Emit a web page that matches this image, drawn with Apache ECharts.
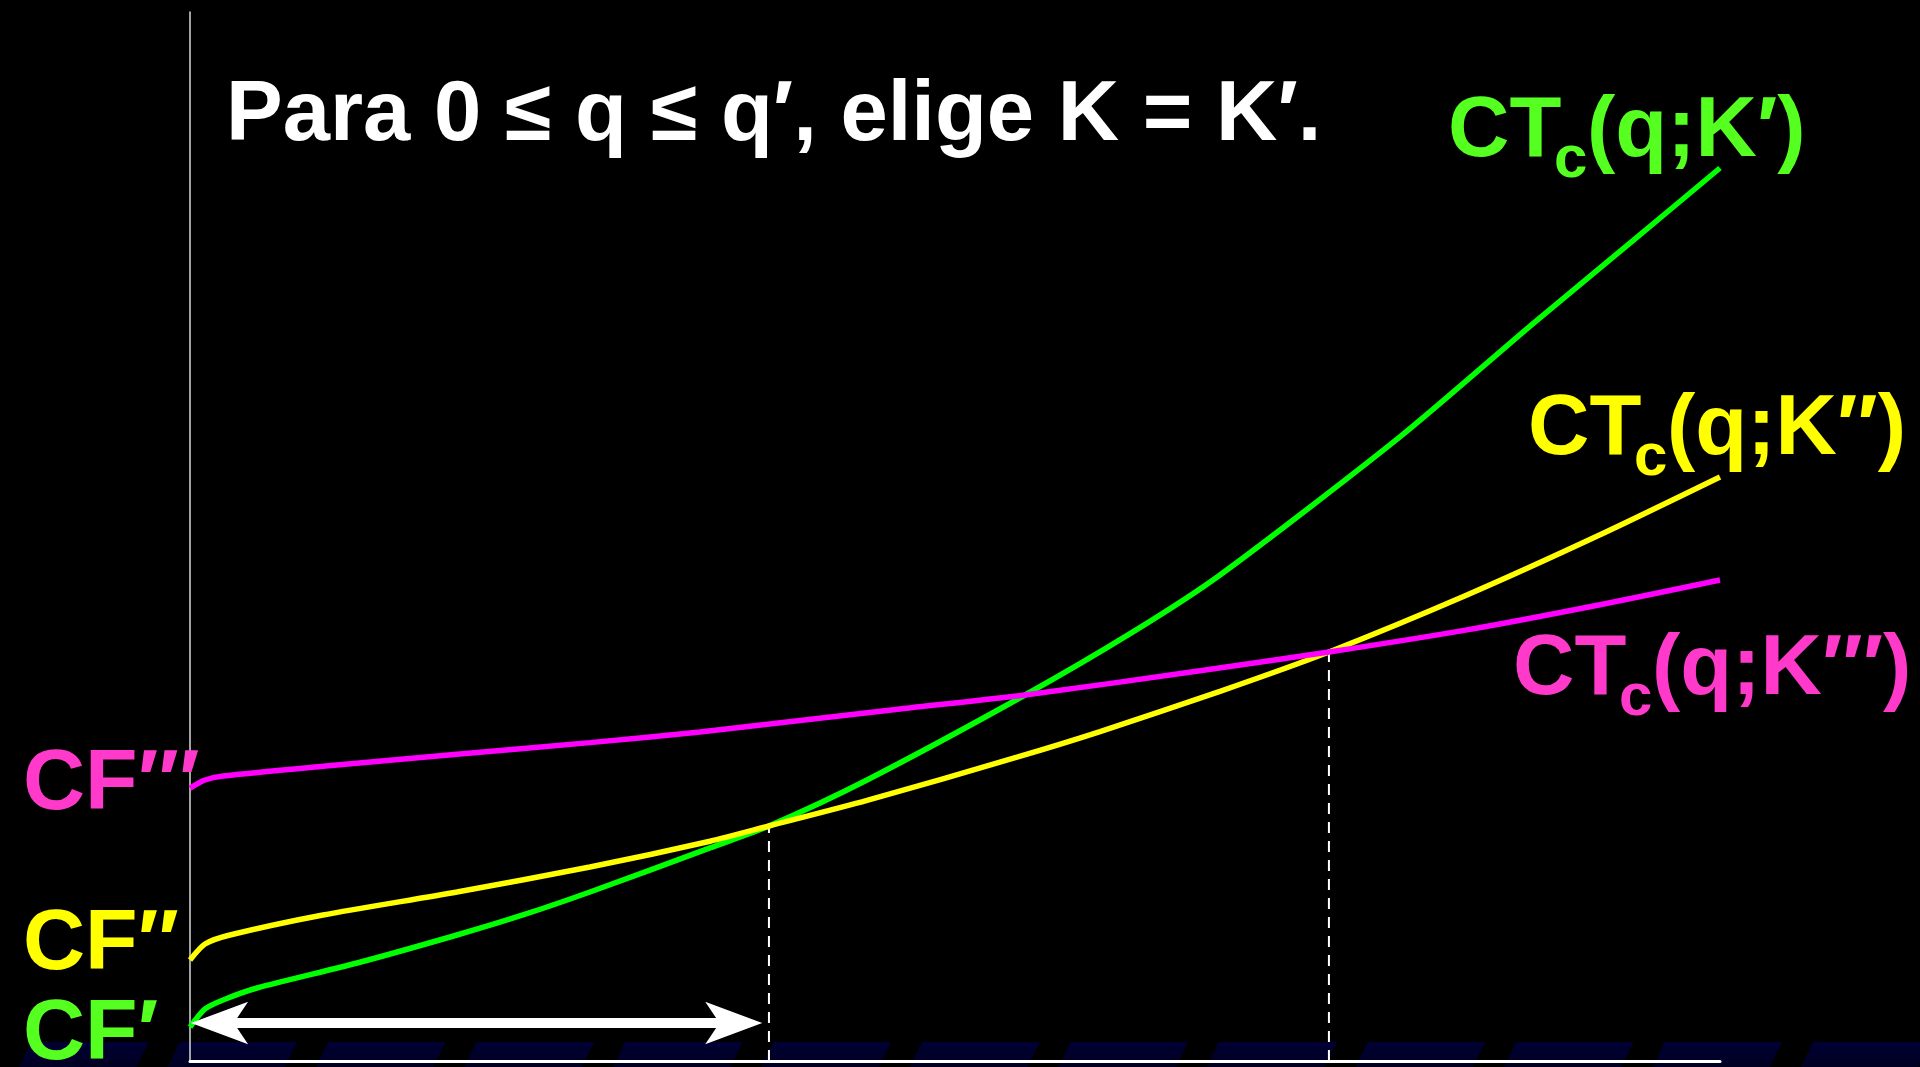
<!DOCTYPE html>
<html>
<head>
<meta charset="utf-8">
<title>CT_c(q;K)</title>
<script src="https://cdn.jsdelivr.net/npm/echarts@6/dist/echarts.min.js"></script>
<style>
  html, body { margin: 0; padding: 0; background: #000; }
  #chart { width: 1920px; height: 1067px; }
</style>
</head>
<body>
<div id="chart"></div>
<script>
// curvas de coste total de corto plazo para tres tamaños de planta (K', K'', K''')
const qGreen = [0, 0.98, 2.16, 4.38, 10.92, 17.45, 21.76, 26.14, 33.99, 37.84, 44.25, 54.58, 61.63, 67.32, 79.08, 87.78, 94.31, 100]
const ctGreen = [3.24, 4.96, 5.82, 6.96, 9.34, 12.01, 13.92, 16.11, 20.31, 22.40, 26.79, 34.89, 40.90, 46.33, 59.5, 70.3, 78.2, 85.13]

const qYellow = [0, 0.98, 2.61, 8.69, 17.45, 26.14, 33.99, 37.84, 44.25, 54.05, 59.48, 67.32, 74.44, 83.46, 92.16, 100]
const ctYellow = [9.63, 11.15, 12.01, 13.92, 16.11, 18.49, 20.95, 22.40, 24.84, 28.96, 31.40, 35.24, 38.99, 44.42, 50.16, 55.67]

const qMagenta = [0, 0.98, 2.16, 8.69, 17.45, 26.14, 33.33, 46.41, 54.58, 66.01, 74.44, 83.46, 92.16, 100]
const ctMagenta = [26.02, 26.79, 27.17, 28.1, 29.25, 30.35, 31.36, 33.56, 34.89, 37.2, 38.99, 41.1, 43.5, 45.85]

// cortes: q' (K' = K'') y q'' (K'' = K''')
const cutQ = [37.84, 74.44]
const cutCT = [22.40, 38.99]

// flecha 0 .. q' (puntas y tramo del astil)
const arrowQ = [0.07, 37.4]
const shaftQ = [2.5, 35.0]
const arrowCT = 3.62

const LINE_GREEN = '#00ff00'
const LINE_YELLOW = '#ffff00'
const LINE_MAGENTA = '#ff00ff'
const TXT_GREEN = '#55ff1f'
const TXT_YELLOW = '#ffff00'
const TXT_MAGENTA = '#ff3acb'
const FONT = "'Liberation Sans', Arial, 'DejaVu Sans', sans-serif"

const zip = (xs, ys) => xs.map((x, i) => [x, ys[i]])

// texto con línea base alfabética aproximada
function txt(text, x, baseline, size, color) {
  return {
    type: 'text', x: x, y: baseline - 0.29 * size, z: 10,
    style: { text: text, fill: color, font: 'bold ' + size + 'px ' + FONT, verticalAlign: 'middle', align: 'left' }
  }
}

function ctLabel(x0, baseline, prime, color) {
  return [
    txt('CT', x0, baseline, 85, color),
    txt('c', x0 + 106, baseline + 21, 60, color),
    txt('(q;K' + prime + ')', x0 + 139, baseline, 85, color)
  ]
}

// franja decorativa inferior de la plantilla
const band = []
for (let k = -2; k < 13; k++) {
  const l = 179.5 + 148.5 * k, r = 297 + 148.5 * k
  band.push({
    type: 'polygon', z: -10, silent: true,
    shape: { points: [[l, 1042], [r, 1042], [r - 12, 1067], [l - 12, 1067]] },
    style: { fill: new echarts.graphic.LinearGradient(0, 0, 0, 1, [{ offset: 0, color: '#000034' }, { offset: 1, color: '#000022' }]) }
  })
}

const chart = echarts.init(document.getElementById('chart'))

const curve = (name, data, color) => ({
  name: name, type: 'line', data: data,
  smooth: 0.25, showSymbol: false, silent: true,
  lineStyle: { color: color, width: 5.5 }, animation: false
})

const P1 = '\u2032'
const P2 = '\u2032\u2032'
const P3 = '\u2032\u2032\u2032'

chart.setOption({
  backgroundColor: '#000',
  animation: false,
  grid: { left: 190, right: 200, top: 12, bottom: 6 },
  xAxis: {
    type: 'value', min: 0, max: 100,
    axisLine: { lineStyle: { color: '#fff', width: 3 } },
    axisTick: { show: false }, axisLabel: { show: false }, splitLine: { show: false }
  },
  yAxis: {
    type: 'value', min: 0, max: 100,
    axisLine: { show: true, lineStyle: { color: '#d8d8d8', width: 1.5 } },
    axisTick: { show: false }, axisLabel: { show: false }, splitLine: { show: false }
  },
  series: [
    {
      type: 'line', data: [[cutQ[0], 0], [cutQ[0], cutCT[0]]], showSymbol: false, silent: true,
      lineStyle: { color: '#fff', width: 2, type: [11, 8] }
    },
    {
      type: 'line', data: [[cutQ[1], 0], [cutQ[1], cutCT[1]]], showSymbol: false, silent: true,
      lineStyle: { color: '#fff', width: 2, type: [11, 8] }
    },
    {
      type: 'line', data: [], silent: true,
      markLine: {
        silent: true, animation: false,
        label: { show: false },
        data: [
          [
            { coord: [arrowQ[0], arrowCT], symbol: 'arrow', symbolSize: [32, 57], lineStyle: { width: 0.1, color: '#fff' } },
            { coord: [arrowQ[1], arrowCT], symbol: 'arrow', symbolSize: [32, 57] }
          ],
          [
            { coord: [shaftQ[0], arrowCT], symbol: 'none', lineStyle: { width: 10, color: '#fff', type: 'solid' } },
            { coord: [shaftQ[1], arrowCT], symbol: 'none' }
          ]
        ],
        lineStyle: { color: '#fff', type: 'solid' },
        itemStyle: { color: '#fff' }
      }
    },
    curve("CTc(q;K')", zip(qGreen, ctGreen), LINE_GREEN),
    curve("CTc(q;K'')", zip(qYellow, ctYellow), LINE_YELLOW),
    curve("CTc(q;K''')", zip(qMagenta, ctMagenta), LINE_MAGENTA)
  ],
  graphic: band.concat(
    [txt('Para 0 \u2264 q \u2264 q' + P1 + ', elige K = K' + P1 + '.', 226, 141, 85, '#fff')],
    ctLabel(1448, 157, P1, TXT_GREEN),
    ctLabel(1528, 455, P2, TXT_YELLOW),
    ctLabel(1513, 695, P3, TXT_MAGENTA),
    [
      txt('CF' + P3, 23, 810, 86, TXT_MAGENTA),
      txt('CF' + P2, 23, 970, 86, TXT_YELLOW),
      txt('CF' + P1, 23, 1060, 86, TXT_GREEN)
    ]
  )
})
</script>
</body>
</html>
